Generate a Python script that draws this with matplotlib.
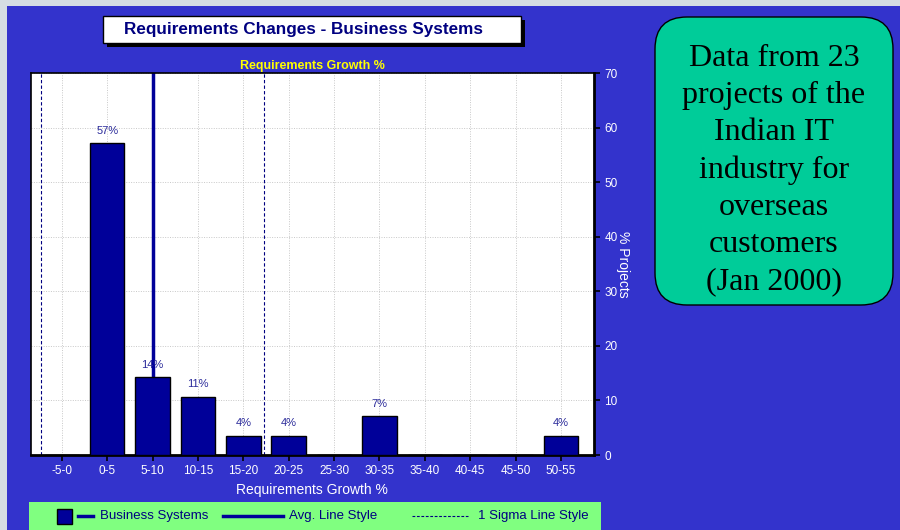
import numpy as np
import matplotlib.pyplot as plt
from matplotlib.patches import Rectangle, FancyBboxPatch
from matplotlib.lines import Line2D

# growth buckets and share of projects (out of 28 data points)
buckets = ["-5-0", "0-5", "5-10", "10-15", "15-20", "20-25", "25-30",
           "30-35", "35-40", "40-45", "45-50", "50-55"]
pct_projects = [0.0, 57.14, 14.29, 10.71, 3.57, 3.57, 0.0,
                7.14, 0.0, 0.0, 0.0, 3.57]
avg_pos = 2.0        # average growth, in bucket units
sigma = 2.45         # one standard deviation, in bucket units

BG = "#3333cc"
BAR = "#000099"
NAVY = "#000080"
NARROW = ["Liberation Sans Narrow", "Liberation Sans", "DejaVu Sans"]

plt.rcParams['font.family'] = ['Liberation Sans', 'DejaVu Sans']

fig = plt.figure(figsize=(9, 5.3), dpi=100)
fig.patch.set_facecolor(BG)

# pixel-space overlay for the frame, title box, note and legend
deco = fig.add_axes([0, 0, 1, 1], zorder=0)
deco.set_xlim(0, 900)
deco.set_ylim(530, 0)
deco.axis("off")
deco.add_patch(Rectangle((0, 0), 900, 6, color="#d5dde3", lw=0))
deco.add_patch(Rectangle((0, 0), 7, 530, color="#d5dde3", lw=0))

# title box with drop shadow
deco.add_patch(Rectangle((107, 20), 418, 27, facecolor="black", lw=0))
deco.add_patch(Rectangle((103, 16), 418, 27, facecolor="white", edgecolor="black", lw=1))
deco.text(303, 29.5, "Requirements Changes - Business Systems", ha="center", va="center",
          fontsize=12.3, fontweight="bold", color=NAVY)

# note box
deco.add_patch(FancyBboxPatch((655, 17), 238, 288, boxstyle="round,pad=0,rounding_size=32",
                              facecolor="#00cc99", edgecolor="black", lw=1))
deco.text(774, 170, "Data from 23\nprojects of the\nIndian IT\nindustry for\noverseas\ncustomers\n(Jan 2000)",
          ha="center", va="center", fontsize=23, linespacing=1.37,
          family=["Liberation Serif", "DejaVu Serif"], color="black")

# legend strip
deco.add_patch(Rectangle((29, 502), 572, 28, facecolor="#80ff80", lw=0))
deco.add_patch(Rectangle((57, 509), 15, 15, facecolor=BAR, edgecolor="black", lw=1))
deco.add_line(Line2D([78, 93], [516, 516], color=BAR, lw=2.5))
deco.text(100, 516.5, "Business Systems", va="center", fontsize=9.5, color=NAVY)
deco.add_line(Line2D([223, 283], [516, 516], color=BAR, lw=2.5))
deco.text(289, 516.5, "Avg. Line Style", va="center", fontsize=9.5, color=NAVY)
deco.add_line(Line2D([412, 468], [516, 516], color=NAVY, lw=0.8, ls=(0, (2.5, 1.5))))
deco.text(478, 516.5, "1 Sigma Line Style", va="center", fontsize=9.5, color=NAVY)

ax = fig.add_axes([0.034, 0.1415, 0.626, 0.7205], zorder=1)
ax.set_facecolor("white")
x = np.arange(len(buckets))

ax.axvline(avg_pos, color=BAR, lw=2.5, zorder=2)
ax.axvline(avg_pos - sigma, color=NAVY, lw=0.8, ls=(0, (3, 2)), zorder=2)
ax.axvline(avg_pos + sigma, color=NAVY, lw=0.8, ls=(0, (3, 2)), zorder=2)

bars = ax.bar(x, pct_projects, width=0.76, color=BAR, edgecolor="black", lw=1, zorder=3)
for xi, v in zip(x, pct_projects):
    if v > 0:
        ax.text(xi, v + 1.3, f"{v:.0f}%", ha="center", va="bottom", fontsize=8,
                color="#2a2a9a", family=NARROW, zorder=4)

ax.set_xlim(-0.69, len(buckets) - 0.27)
ax.set_ylim(0, 70)
ax.set_xticks(x)
ax.set_xticklabels(buckets)
ax.set_yticks(range(0, 71, 10))
ax.yaxis.tick_right()
ax.yaxis.set_label_position("right")
ax.grid(True, color="#c8c8c8", ls=(0, (1, 1.5)), lw=0.7, zorder=0)
ax.set_axisbelow(True)

ax.tick_params(axis="both", colors="black", labelcolor="white", labelsize=8.5,
               length=4, width=1.2)
for lbl in ax.get_xticklabels() + ax.get_yticklabels():
    lbl.set_family(NARROW)
for side in ax.spines.values():
    side.set_color("black")
    side.set_linewidth(1.2)
ax.spines["bottom"].set_linewidth(2)
ax.spines["right"].set_linewidth(2)

ax.set_xlabel("Requirements Growth %", color="white", fontsize=10, labelpad=4)
ax.set_ylabel("% Projects", color="white", fontsize=10, rotation=-90, va="bottom", labelpad=-1)
ax.set_title("Requirements Growth %", color="#ffff00", fontsize=9, fontweight="bold", pad=3)

fig.savefig("out.png", dpi=100, facecolor=fig.get_facecolor())
